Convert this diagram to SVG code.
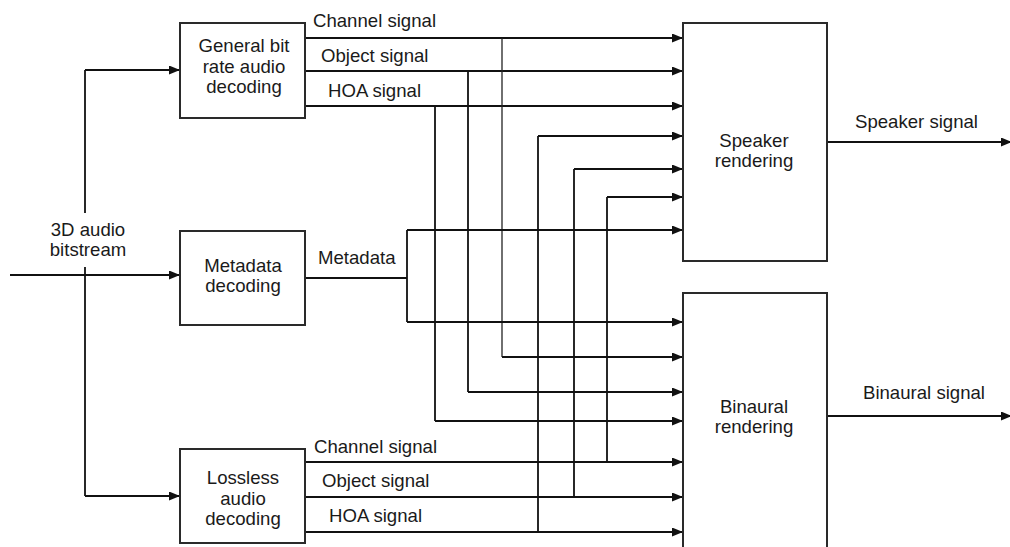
<svg xmlns="http://www.w3.org/2000/svg" width="1010" height="547" viewBox="0 0 1010 547">
<defs>
<style>
.box{fill:#fff;stroke:#2a2a2a;stroke-width:2}
.t{font-family:"Liberation Sans",Arial,sans-serif;font-size:18.6px;fill:#1a1a1a}
.c{text-anchor:middle}
.w{fill:none;stroke:#111;stroke-width:1.8}
.a{fill:none;stroke:#111;stroke-width:1.8;marker-end:url(#ah)}
.thin{fill:none;stroke:#222;stroke-width:1.3}
</style>
<marker id="ah" viewBox="0 0 11 9" refX="11" refY="4.5" markerWidth="11" markerHeight="9" markerUnits="userSpaceOnUse" orient="auto">
<path d="M0,0 L11,4.5 L0,9 Z" fill="#111"/>
</marker>
</defs>
<rect width="1010" height="547" fill="#fff"/>

<g id="connectors">
<path class="a" d="M10,275 H180"/>
<path class="w" d="M85,213 V70"/>
<path class="a" d="M85,70 H180"/>
<path class="w" d="M85,267 V496"/>
<path class="a" d="M85,496 H180"/>
<path class="a" d="M305,38 H683"/>
<path class="a" d="M305,71 H683"/>
<path class="a" d="M305,106 H683"/>
<path class="thin" d="M502,38 V357"/>
<path class="a" d="M502,357 H683"/>
<path class="w" d="M468,71 V392"/>
<path class="a" d="M468,392 H683"/>
<path class="w" d="M435,106 V421"/>
<path class="a" d="M435,421 H683"/>
<path class="w" d="M305,278 H407 M407,230 V322"/>
<path class="a" d="M407,230 H683"/>
<path class="a" d="M407,322 H683"/>
<path class="a" d="M305,462 H683"/>
<path class="a" d="M305,497 H683"/>
<path class="a" d="M305,532 H683"/>
<path class="w" d="M607,462 V197"/>
<path class="a" d="M607,197 H683"/>
<path class="w" d="M574,497 V169"/>
<path class="a" d="M574,169 H683"/>
<path class="w" d="M538,532 V136"/>
<path class="a" d="M538,136 H683"/>
<path class="a" d="M827,142 H1012"/>
<path class="a" d="M827,416 H1012"/>
</g>

<g id="labels">
<text class="t" x="88" y="236" text-anchor="middle">3D audio</text>
<text class="t" x="88" y="256" text-anchor="middle">bitstream</text>
<text class="t" x="313" y="27">Channel signal</text>
<text class="t" x="321" y="62">Object signal</text>
<text class="t" x="328" y="97">HOA signal</text>
<text class="t" x="318" y="264">Metadata</text>
<text class="t" x="314" y="453">Channel signal</text>
<text class="t" x="322" y="487">Object signal</text>
<text class="t" x="329" y="522">HOA signal</text>
<text class="t" x="855" y="128">Speaker signal</text>
<text class="t" x="863" y="399">Binaural signal</text>
</g>

<g id="general-decoding">
<rect class="box" x="180" y="23" width="125" height="95"/>
<text class="t c" x="244" y="52">General bit</text>
<text class="t c" x="244" y="73">rate audio</text>
<text class="t c" x="244" y="93">decoding</text>
</g>

<g id="metadata-decoding">
<rect class="box" x="180" y="231" width="125" height="94"/>
<text class="t c" x="243" y="272">Metadata</text>
<text class="t c" x="243" y="292">decoding</text>
</g>

<g id="lossless-decoding">
<rect class="box" x="180" y="449" width="125" height="94"/>
<text class="t c" x="243" y="484">Lossless</text>
<text class="t c" x="243" y="505">audio</text>
<text class="t c" x="243" y="525">decoding</text>
</g>

<g id="speaker-rendering">
<rect class="box" x="683" y="23" width="144" height="238"/>
<text class="t c" x="754" y="147">Speaker</text>
<text class="t c" x="754" y="167">rendering</text>
</g>

<g id="binaural-rendering">
<rect class="box" x="683" y="293" width="144" height="270"/>
<text class="t c" x="754" y="413">Binaural</text>
<text class="t c" x="754" y="433">rendering</text>
</g>
</svg>
